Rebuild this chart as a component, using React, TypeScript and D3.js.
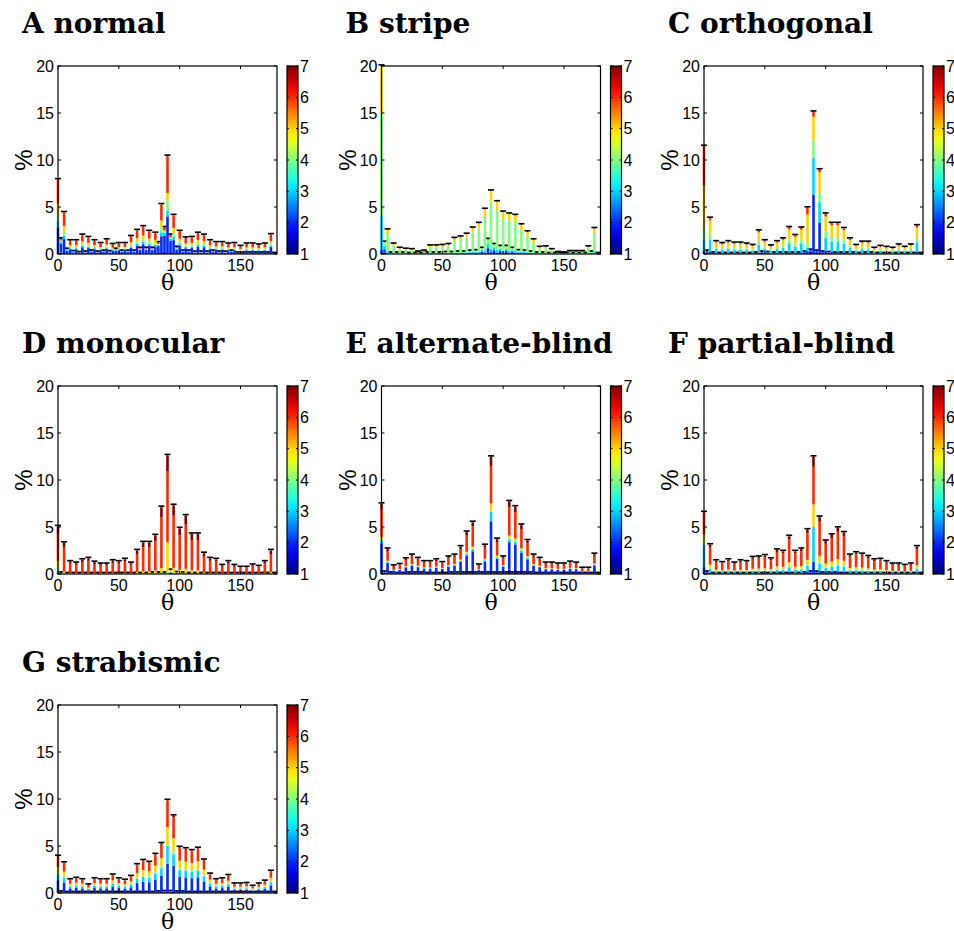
import React from 'react';
import * as d3 from 'd3';

// ---------- categories & ticks ----------
const THETA = d3.range(0, 180, 5);
const X_TICKS = [0, 50, 100, 150];
const Y_TICKS = [0, 5, 10, 15, 20];
const CB_TICKS = [1, 2, 3, 4, 5, 6, 7];
const TITLES = ['A normal', 'B stripe', 'C orthogonal', 'D monocular', 'E alternate-blind', 'F partial-blind', 'G strabismic'];

// ---------- main bar totals (θ = 0..175) ----------
const A_MAIN = [7.9,4.4,1.4,1.4,2.0,1.75,1.4,1.1,1.5,1.0,1.1,1.1,1.85,2.5,2.9,2.4,2.2,5.25,10.4,4.1,2.4,1.7,1.75,2.2,2.0,1.4,1.2,1.2,1.05,1.1,0.8,1.05,1.05,0.95,1.05,2.05];
const B_MAIN = [20,2.55,1.05,0.6,0.5,0.45,0.2,0.3,0.85,0.85,0.9,1.0,1.65,1.8,2.1,2.75,3.25,4.75,6.7,5.55,4.45,4.25,4.1,3.1,2.35,1.5,0.7,0.75,0.45,0.15,0.1,0.25,0.25,0.25,0.75,2.7];
const C_MAIN = [11.45,3.8,1.3,1.1,1.3,1.15,1.15,1.05,0.9,2.45,1.4,0.85,1.3,1.6,2.8,1.95,2.75,4.9,15.1,8.95,4.25,3.25,3.25,2.7,1.6,0.9,1.25,1.25,0.6,0.8,0.7,0.6,0.95,0.7,0.95,3.0];
const D_MAIN = [5.05,3.3,1.3,1.15,1.5,1.65,1.25,1.05,1.05,1.4,1.3,1.55,1.15,2.5,3.35,3.35,4.1,7.1,12.6,7.3,4.85,6.2,4.25,4.25,2.2,1.65,1.55,0.9,1.3,0.9,0.7,0.7,0.95,0.8,1.3,2.5];
const E_MAIN = [7.45,2.65,0.85,1.0,1.6,2.0,1.65,1.3,1.3,1.5,1.2,1.8,2.0,2.9,4.45,5.5,0.95,3.05,12.45,3.7,1.8,7.7,7.15,5.2,3.55,2.0,1.65,1.15,1.15,1.05,1.05,1.25,1.15,0.6,0.6,2.1];
const F_MAIN = [6.55,3.1,1.4,1.2,1.5,1.15,1.4,1.3,1.75,1.8,1.95,1.6,2.55,2.4,4.0,2.4,2.65,4.7,12.45,6.05,3.5,4.15,4.9,4.4,2.0,2.25,2.1,1.85,1.5,1.55,1.3,1.05,1.05,0.9,1.05,2.9];
const G_MAIN = [3.9,3.2,1.4,1.55,1.4,0.85,1.5,1.4,1.4,1.9,1.5,1.35,1.75,3.0,3.45,3.25,4.1,5.25,9.85,8.2,4.85,4.7,4.5,4.75,3.5,2.0,1.4,1.5,1.85,0.95,0.95,1.0,0.7,0.95,1.25,2.3];

// ---------- secondary bar totals (θ = 2.5..177.5) ----------
const A_SEC = [1.6,0.5,0.25,0.15,0.2,0.3,0.2,0.3,0.25,0.5,0.3,0.3,0.3,0.6,0.6,0.6,1.2,2.8,2.0,0.7,0.3,0.3,0.2,0.2,0.2,0.3,0.2,0.2,0.3,0.1,0.1,0.1,0.1,0.1,0.1,0.05];
const B_SEC = [1.25,0.1,0.1,0.1,0.05,0.05,0.05,0.1,0.1,0.1,0.15,0.15,0.2,0.2,0.3,0.35,0.6,1.55,1.0,0.8,0.8,0.6,0.35,0.3,0.2,0.1,0.1,0.05,0.05,0.05,0.05,0.05,0.05,0.05,0.2,0.05];
const C_SEC = [0.3,0.1,0.05,0.05,0.05,0.05,0.05,0.05,0.1,0.2,0.15,0.1,0.1,0.1,0.1,0.1,0.2,0.4,0.3,0.2,0.15,0.1,0.1,0.1,0.1,0.05,0.1,0.1,0.05,0.05,0.05,0.05,0.05,0.05,0.05,0.05];
const D_SEC = [0.1,0.05,0.05,0.05,0.05,0.05,0.05,0.05,0.05,0.05,0.05,0.05,0.05,0.05,0.05,0.1,0.1,0.1,0.4,0.15,0.1,0.05,0.05,0.05,0.05,0.05,0.05,0.05,0.05,0.05,0.05,0.05,0.05,0.05,0.05,0.05];
const E_SEC = [0.2,0.1,0.05,0.05,0.1,0.1,0.1,0.05,0.05,0.05,0.05,0.1,0.1,0.1,0.1,0.1,0.1,0.1,0.1,0.1,0.1,0.1,0.1,0.1,0.1,0.05,0.05,0.05,0.05,0.05,0.05,0.05,0.05,0.05,0.05,0.05];
const F_SEC = [0.2,0.05,0.05,0.05,0.05,0.05,0.05,0.05,0.05,0.05,0.05,0.05,0.05,0.05,0.05,0.05,0.1,0.2,0.2,0.1,0.1,0.1,0.05,0.05,0.05,0.05,0.05,0.05,0.05,0.05,0.05,0.05,0.05,0.05,0.05,0.05];
const G_SEC = [0.1,0.05,0.05,0.05,0.05,0.05,0.05,0.05,0.05,0.05,0.05,0.05,0.05,0.05,0.05,0.05,0.1,0.15,0.15,0.1,0.1,0.05,0.05,0.05,0.05,0.05,0.05,0.05,0.05,0.05,0.05,0.05,0.05,0.05,0.05,0.05];

// ---------- class composition (classes 1..7, bottom to top) ----------
const A_FRAC = [0.02,0.34,0.08,0.1,0.14,0.32,0];
const B_FRAC = [0.01,0.02,0.05,0.75,0.17,0,0];
const C_FRAC = [0.01,0.05,0.35,0.15,0.38,0.06,0];
const D_FRAC = [0,0,0.01,0.01,0.07,0.76,0.15];
const E_FRAC = [0.06,0.38,0.04,0.01,0.04,0.39,0.08];
const F_FRAC = [0.02,0.03,0.13,0.04,0.1,0.6,0.08];
const G_FRAC = [0.02,0.33,0.15,0.04,0.17,0.27,0.02];

const A_SFRAC = [0.1,0.6,0.1,0.05,0.05,0.1,0];
const B_SFRAC = [0.1,0.3,0.3,0.3,0,0,0];
const C_SFRAC = [0.6,0.4,0,0,0,0,0];
const D_SFRAC = [0.3,0.1,0.2,0.2,0.2,0,0];
const E_SFRAC = [0.6,0.4,0,0,0,0,0];
const F_SFRAC = [0.5,0.5,0,0,0,0,0];
const G_SFRAC = [0.5,0.5,0,0,0,0,0];

// explicit segment readings for notable bars {theta: [c1..c7]}
const A_OVER = { 90: [0,4.0,0.6,1.1,0.8,3.9,0] };
const B_OVER = { 0: [0.1,0.3,3.6,11,5,0,0] };
const C_OVER = { 0: [0,0.3,1.2,1.4,4.4,4.15,0], 85: [0,0.3,0.4,0.5,3.0,0.7,0], 90: [0,6.3,3.9,1.8,2.6,0.5,0], 95: [0,3.3,2.2,1.0,2.2,0.25,0] };
const D_OVER = { 0: [0,0.1,0.25,0.25,0.8,2.9,0.75], 90: [0,0,0,0.2,3.2,7.5,1.7] };
const E_OVER = { 90: [0.3,5.3,1.0,0,0.9,4.0,0.95] };
const F_OVER = { 0: [0,0.7,2.4,0.4,0.7,2.35,0], 90: [0,1.3,3.7,0,2.4,4.0,1.05] };
const G_OVER = { 90: [0,3.1,1.9,0.1,1.9,2.85,0] };

const ERR = [0.12, 0.12, 0.12, 0.12, 0.12, 0.12, 0.12];

const PANELS = [
  { title: TITLES[0], main: A_MAIN, sec: A_SEC, frac: A_FRAC, sfrac: A_SFRAC, over: A_OVER, col: 0, row: 0 },
  { title: TITLES[1], main: B_MAIN, sec: B_SEC, frac: B_FRAC, sfrac: B_SFRAC, over: B_OVER, col: 1, row: 0 },
  { title: TITLES[2], main: C_MAIN, sec: C_SEC, frac: C_FRAC, sfrac: C_SFRAC, over: C_OVER, col: 2, row: 0 },
  { title: TITLES[3], main: D_MAIN, sec: D_SEC, frac: D_FRAC, sfrac: D_SFRAC, over: D_OVER, col: 0, row: 1 },
  { title: TITLES[4], main: E_MAIN, sec: E_SEC, frac: E_FRAC, sfrac: E_SFRAC, over: E_OVER, col: 1, row: 1 },
  { title: TITLES[5], main: F_MAIN, sec: F_SEC, frac: F_FRAC, sfrac: F_SFRAC, over: F_OVER, col: 2, row: 1 },
  { title: TITLES[6], main: G_MAIN, sec: G_SEC, frac: G_FRAC, sfrac: G_SFRAC, over: G_OVER, col: 0, row: 2 },
];

// ---------- layout ----------
const COL_X = [58, 381.5, 704];
const ROW_Y = [66, 386, 705];
const PW = 219;
const PH = 188;

const clamp = (v: number) => Math.max(0, Math.min(1, v));
const jet = (t: number) => {
  const r = clamp(1.5 - Math.abs(4 * t - 3));
  const g = clamp(1.5 - Math.abs(4 * t - 2));
  const b = clamp(1.5 - Math.abs(4 * t - 1));
  return d3.rgb(r * 255, g * 255, b * 255).formatHex();
};
const classColor = (k: number) => jet(k / 6);

const x = d3.scaleLinear().domain([0, 180]).range([0, PW]);
const y = d3.scaleLinear().domain([0, 20]).range([PH, 0]);
const cbY = d3.scaleLinear().domain([1, 7]).range([PH, 0]);

const BW = 2.6;
const SANS = '"Liberation Sans", Arial, sans-serif';
const SERIF = '"DejaVu Serif", serif';

function StackBar({ cx, segs, err }: { cx: number; segs: number[]; err: number }) {
  const cum = [0, ...d3.cumsum(segs)];
  const total = cum[cum.length - 1];
  return (
    <g>
      {segs.map((v, k) =>
        v > 0 ? (
          <rect key={k} x={cx - BW / 2} width={BW} y={y(cum[k + 1])} height={Math.max(0, y(cum[k]) - y(cum[k + 1]))} fill={classColor(k)} />
        ) : null
      )}
      <line x1={cx} x2={cx} y1={y(total)} y2={y(total + err)} stroke="#000" strokeWidth={1} />
      <line x1={cx - 3} x2={cx + 3} y1={y(total + err)} y2={y(total + err)} stroke="#000" strokeWidth={1.6} />
    </g>
  );
}

function Panel({ p, idx }: { p: any; idx: number }) {
  const left = COL_X[p.col];
  const top = ROW_Y[p.row];
  const err = ERR[idx];
  const gid = `jetgrad${idx}`;
  return (
    <g>
      <text x={left - 36} y={top - 33} fontFamily={SERIF} fontWeight="bold" fontSize={28} fill="#000">{p.title}</text>
      <g transform={`translate(${left},${top})`}>
        {THETA.map((t, i) => (
          <StackBar key={'s' + i} cx={x(t + 2.5)} segs={p.sfrac.map((f: number) => f * p.sec[i])} err={err} />
        ))}
        {THETA.map((t, i) => (
          <StackBar key={'m' + i} cx={x(t)} segs={p.over[t] ? p.over[t] : p.frac.map((f: number) => f * p.main[i])} err={err} />
        ))}
        <rect x={0} y={0} width={PW} height={PH} fill="none" stroke="#000" strokeWidth={1.2} />
        {X_TICKS.map((t) => (
          <g key={'xt' + t}>
            <line x1={x(t)} x2={x(t)} y1={PH} y2={PH - 3} stroke="#000" />
            <line x1={x(t)} x2={x(t)} y1={0} y2={3} stroke="#000" />
            <text x={x(t)} y={PH + 16.5} textAnchor="middle" fontFamily={SANS} fontSize={16}>{t}</text>
          </g>
        ))}
        {Y_TICKS.map((t) => (
          <g key={'yt' + t}>
            <line x1={0} x2={3} y1={y(t)} y2={y(t)} stroke="#000" />
            <line x1={PW} x2={PW - 3} y1={y(t)} y2={y(t)} stroke="#000" />
            <text x={-4} y={y(t) + 5.5} textAnchor="end" fontFamily={SANS} fontSize={16}>{t}</text>
          </g>
        ))}
        <text x={PW / 2} y={PH + 36} textAnchor="middle" fontFamily={SERIF} fontSize={22}>θ</text>
        <text transform={`translate(${-26},${PH / 2}) rotate(-90)`} textAnchor="middle" fontFamily={SANS} fontSize={24}>%</text>
        <defs>
          <linearGradient id={gid} x1="0" y1="1" x2="0" y2="0">
            {d3.range(0, 1.0001, 0.05).map((t) => (
              <stop key={t} offset={t} stopColor={jet(t)} />
            ))}
          </linearGradient>
        </defs>
        <g transform={`translate(${PW + 10},0)`}>
          <rect x={0} y={0} width={11} height={PH} fill={`url(#${gid})`} stroke="#000" strokeWidth={1.2} />
          {CB_TICKS.map((t) => (
            <g key={'cb' + t}>
              <line x1={0} x2={2} y1={cbY(t)} y2={cbY(t)} stroke="#000" />
              <line x1={11} x2={9} y1={cbY(t)} y2={cbY(t)} stroke="#000" />
              <text x={13} y={cbY(t) + 5.5} fontFamily={SANS} fontSize={16}>{t}</text>
            </g>
          ))}
        </g>
      </g>
    </g>
  );
}

export default function App() {
  return (
    <div style={{ position: 'absolute', left: 0, top: 0 }}>
      <svg width={954} height={931} style={{ display: 'block', background: '#fff' }}>
        <rect width={954} height={931} fill="#fff" />
        {PANELS.map((p, i) => (
          <Panel key={i} p={p} idx={i} />
        ))}
      </svg>
    </div>
  );
}
